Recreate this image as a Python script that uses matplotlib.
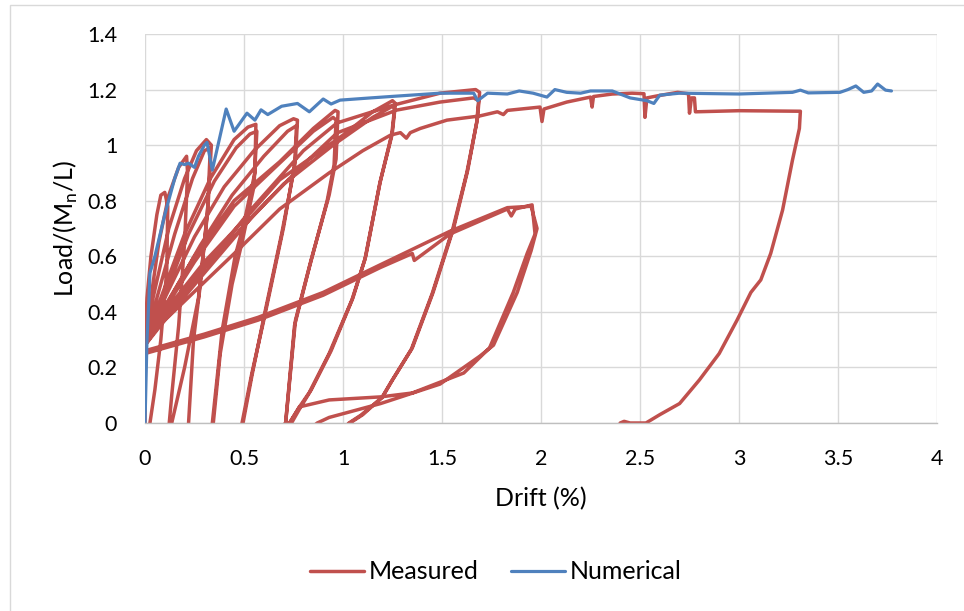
import numpy as np
import matplotlib
matplotlib.use("Agg")
import matplotlib.pyplot as plt
from matplotlib.ticker import FuncFormatter, MultipleLocator
from matplotlib.patches import Rectangle

# numerical model: drift (%) vs normalised load
num_x = [0.0, 0.01, 0.02, 0.025, 0.05, 0.1, 0.15, 0.177, 0.2, 0.22, 0.25, 0.27, 0.30, 0.313,
         0.34, 0.41, 0.45, 0.515, 0.555, 0.586, 0.62, 0.69, 0.77, 0.83, 0.90, 0.94, 0.985,
         1.14, 1.24, 1.49, 1.66, 1.68, 1.73, 1.83, 1.89, 1.96, 2.03, 2.07, 2.13, 2.2, 2.25,
         2.36, 2.45, 2.535, 2.57, 2.6, 2.7, 3.0, 3.27, 3.31, 3.35, 3.51, 3.55, 3.59, 3.63,
         3.67, 3.70, 3.74, 3.77]
num_y = [0.0, 0.3, 0.45, 0.54, 0.6, 0.75, 0.88, 0.935, 0.93, 0.935, 0.92, 0.96, 1.0, 1.01,
         0.91, 1.13, 1.05, 1.115, 1.09, 1.127, 1.11, 1.14, 1.15, 1.12, 1.166, 1.148, 1.162,
         1.17, 1.175, 1.187, 1.187, 1.16, 1.187, 1.184, 1.195, 1.187, 1.173, 1.2, 1.19, 1.187, 1.195,
         1.195, 1.17, 1.16, 1.15, 1.18, 1.187, 1.184, 1.19, 1.198, 1.188, 1.19, 1.2, 1.213, 1.19,
         1.195, 1.22, 1.198, 1.195]

# measured response, one list per loading/unloading excursion (negative side lies off the plot)
cyc1_x = [0.0, 0.003, 0.01, 0.03, 0.06, 0.08, 0.10, 0.115, 0.11, 0.08, 0.05, 0.025, 0.0, -0.2]
cyc1_y = [0.0, 0.34, 0.45, 0.6, 0.75, 0.82, 0.83, 0.78, 0.55, 0.3, 0.12, 0.0, -0.3, -0.6]
cyc2_x = [-0.05, 0.0, 0.03, 0.07, 0.12, 0.17, 0.21, 0.215, 0.2, 0.17, 0.135, 0.11, -0.2]
cyc2_y = [0.2, 0.3, 0.45, 0.65, 0.82, 0.92, 0.96, 0.9, 0.65, 0.35, 0.1, -0.1, -0.6]
cyc3_x = [-0.05, 0.0, 0.05, 0.12, 0.2, 0.26, 0.31, 0.335, 0.32, 0.28, 0.245, 0.22, 0.19, -0.2]
cyc3_y = [0.22, 0.32, 0.48, 0.7, 0.88, 0.98, 1.02, 1.0, 0.8, 0.5, 0.3, 0.0, -0.3, -0.6]
cyc4_x = [-0.05, 0.0, 0.06, 0.15, 0.24, 0.30, 0.33, 0.315, 0.27, 0.2, 0.135, 0.1, -0.2]
cyc4_y = [0.2, 0.3, 0.45, 0.68, 0.88, 0.98, 0.99, 0.75, 0.45, 0.2, 0.0, -0.2, -0.6]
cyc5_x = [-0.05, 0.0, 0.08, 0.2, 0.33, 0.45, 0.52, 0.56, 0.555, 0.5, 0.455, 0.39, 0.34, 0.3, -0.2]
cyc5_y = [0.2, 0.3, 0.45, 0.68, 0.88, 1.02, 1.065, 1.075, 0.9, 0.72, 0.6, 0.335, 0.0, -0.3, -0.6]
cyc6_x = [-0.05, 0.0, 0.1, 0.22, 0.35, 0.46, 0.53, 0.565, 0.55, 0.49, 0.44, 0.38, 0.345, 0.3, -0.2]
cyc6_y = [0.2, 0.31, 0.46, 0.68, 0.87, 0.99, 1.04, 1.05, 0.85, 0.65, 0.5, 0.25, 0.0, -0.3, -0.6]
cyc7_x = [-0.05, 0.0, 0.1, 0.25, 0.4, 0.55, 0.68, 0.75, 0.77, 0.76, 0.70, 0.60, 0.54, 0.49, 0.45, -0.2]
cyc7_y = [0.2, 0.3, 0.45, 0.67, 0.85, 0.98, 1.07, 1.095, 1.09, 0.95, 0.705, 0.37, 0.18, 0.0, -0.3, -0.6]
cyc8_x = [-0.05, 0.0, 0.12, 0.28, 0.44, 0.6, 0.72, 0.765, 0.755, 0.69, 0.6, 0.54, 0.495, 0.45, -0.2]
cyc8_y = [0.2, 0.3, 0.44, 0.64, 0.82, 0.96, 1.05, 1.07, 0.92, 0.68, 0.38, 0.17, 0.0, -0.3, -0.6]
cyc9_x = [-0.05, 0.0, 0.1, 0.25, 0.45, 0.68, 0.85, 0.96, 0.975, 0.965, 0.93, 0.84, 0.76, 0.71, 0.67, -0.2]
cyc9_y = [0.2, 0.3, 0.42, 0.6, 0.8, 0.94, 1.06, 1.125, 1.12, 0.95, 0.82, 0.59, 0.37, 0.0, -0.3, -0.6]
cyc10_x = [-0.05, 0.0, 0.1, 0.25, 0.45, 0.68, 0.85, 0.95, 0.965, 0.955, 0.92, 0.83, 0.755, 0.71, -0.2]
cyc10_y = [0.2, 0.3, 0.41, 0.58, 0.78, 0.935, 1.05, 1.1, 1.09, 0.93, 0.8, 0.56, 0.35, 0.0, -0.6]
cyc11_x = [-0.05, 0.0, 0.1, 0.3, 0.5, 0.68, 1.0, 1.15, 1.25, 1.265, 1.25, 1.19, 1.11, 1.045, 0.93,
           0.83, 0.78, 0.73, 0.7, -0.2]
cyc11_y = [0.2, 0.3, 0.4, 0.58, 0.73, 0.875, 1.036, 1.12, 1.16, 1.15, 1.05, 0.875, 0.587, 0.443, 0.25,
           0.11, 0.058, 0.0, -0.2, -0.6]
cyc12_x = [-0.05, 0.0, 0.1, 0.3, 0.5, 0.7, 0.95, 1.15, 1.25, 1.26, 1.245, 1.185, 1.115, 1.05, 0.94,
           0.84, 0.78, 0.74, -0.2]
cyc12_y = [0.2, 0.29, 0.39, 0.56, 0.71, 0.86, 1.0, 1.1, 1.14, 1.13, 1.03, 0.86, 0.6, 0.45, 0.26,
           0.12, 0.05, 0.0, -0.6]
cyc13_x = [-0.05, 0.0, 0.1, 0.3, 0.55, 0.8, 0.97, 1.26, 1.49, 1.67, 1.69, 1.68, 1.63, 1.56, 1.455,
           1.35, 1.25, 1.2, 1.1, 1.035, 0.9, -0.2]
cyc13_y = [0.18, 0.28, 0.38, 0.56, 0.78, 0.98, 1.08, 1.145, 1.187, 1.2, 1.19, 1.1, 0.91, 0.705, 0.47,
           0.27, 0.155, 0.094, 0.03, 0.0, -0.1, -0.6]
cyc14_x = [-0.05, 0.0, 0.1, 0.3, 0.55, 0.8, 0.97, 1.27, 1.49, 1.66, 1.685, 1.675, 1.625, 1.555, 1.45,
           1.345, 1.245, 1.195, 1.09, 1.03, 0.9, -0.2]
cyc14_y = [0.18, 0.28, 0.37, 0.54, 0.75, 0.93, 1.044, 1.126, 1.155, 1.17, 1.16, 1.08, 0.9, 0.7, 0.465,
           0.265, 0.15, 0.09, 0.028, 0.0, -0.1, -0.6]
loop1_x = [-0.05, 0.0, 0.3, 0.57, 0.9, 1.19, 1.35, 1.36, 1.54, 1.83, 1.85, 1.87, 1.955, 1.97, 1.93,
           1.86, 1.74, 1.61, 1.35, 1.19, 0.93, 0.78, 0.73, 0.6, -0.2]
loop1_y = [0.2, 0.25, 0.31, 0.37, 0.46, 0.56, 0.61, 0.585, 0.68, 0.77, 0.745, 0.77, 0.785, 0.68, 0.61,
           0.47, 0.27, 0.18, 0.108, 0.094, 0.083, 0.058, 0.0, -0.2, -0.6]
loop2_x = [-0.05, 0.0, 0.3, 0.57, 0.9, 1.19, 1.54, 1.83, 1.95, 1.98, 1.95, 1.88, 1.76, 1.69,
           1.49, 1.19, 0.93, 0.87, 0.7, -0.2]
loop2_y = [0.2, 0.26, 0.32, 0.38, 0.47, 0.57, 0.69, 0.775, 0.78, 0.7, 0.62, 0.47, 0.28, 0.24,
           0.14, 0.07, 0.02, 0.0, -0.1, -0.6]
big_x = [-0.05, 0.0, 0.1, 0.26, 0.48, 0.68, 0.93, 1.1, 1.24, 1.29, 1.32, 1.34, 1.39, 1.525, 1.69,
         1.78, 1.81, 1.83, 1.995, 2.005, 2.015, 2.13, 2.25, 2.258, 2.265, 2.36, 2.46, 2.52,
         2.525, 2.535, 2.585, 2.69, 2.745, 2.75, 2.76, 2.775, 2.78, 3.0, 3.31, 3.305, 3.27,
         3.22, 3.16, 3.11, 3.06, 2.99, 2.90, 2.80, 2.70, 2.6, 2.53, 2.45, 2.42, 2.40, 2.38]
big_y = [0.2, 0.3, 0.37, 0.48, 0.63, 0.77, 0.9, 0.98, 1.036, 1.045, 1.025, 1.045, 1.06, 1.09, 1.105,
         1.12, 1.11, 1.125, 1.137, 1.085, 1.13, 1.155, 1.173, 1.137, 1.175, 1.184, 1.187, 1.185,
         1.10, 1.17, 1.177, 1.19, 1.185, 1.115, 1.17, 1.17, 1.12, 1.124, 1.122, 1.06, 0.946,
         0.766, 0.61, 0.515, 0.47, 0.37, 0.25, 0.155, 0.07, 0.03, 0.0, 0.0, 0.006, 0.0, -0.05]

meas_x = np.concatenate([cyc1_x, cyc2_x, cyc3_x, cyc4_x, cyc5_x, cyc6_x, cyc7_x, cyc8_x,
                         cyc9_x, cyc10_x, cyc11_x, cyc12_x, cyc13_x, cyc14_x, loop1_x, loop2_x, big_x])
meas_y = np.concatenate([cyc1_y, cyc2_y, cyc3_y, cyc4_y, cyc5_y, cyc6_y, cyc7_y, cyc8_y,
                         cyc9_y, cyc10_y, cyc11_y, cyc12_y, cyc13_y, cyc14_y, loop1_y, loop2_y, big_y])

plt.rcParams['font.family'] = ['Lato', 'DejaVu Sans']

fig = plt.figure(figsize=(9.64, 6.11), dpi=100)
# outer chart-area frame
fig.patches.append(Rectangle((10 / 964, -0.05), 1.0, 1.05 - 5 / 611, transform=fig.transFigure,
                             fill=False, edgecolor='#d9d9d9', linewidth=1.0))
ax = fig.add_axes([145 / 964, 1 - 423 / 611, 792 / 964, 389 / 611])

ax.plot(meas_x, meas_y, color='#c0504d', linewidth=2.5, label='Measured',
        solid_joinstyle='round', solid_capstyle='round')
ax.plot(num_x, num_y, color='#4f81bd', linewidth=2.3, label='Numerical',
        solid_joinstyle='round', solid_capstyle='round')

ax.set_xlim(0, 4)
ax.set_ylim(0, 1.4)
ax.xaxis.set_major_locator(MultipleLocator(0.5))
ax.yaxis.set_major_locator(MultipleLocator(0.2))
fmt = FuncFormatter(lambda v, p: '%g' % round(v, 2))
ax.xaxis.set_major_formatter(fmt)
ax.yaxis.set_major_formatter(fmt)
ax.grid(True, color='#d9d9d9', linewidth=1.0)
ax.set_axisbelow(True)
for side in ['top', 'right', 'left']:
    ax.spines[side].set_visible(False)
ax.spines['bottom'].set_color('#bfbfbf')
ax.spines['bottom'].set_linewidth(1.0)
ax.tick_params(length=0, labelsize=15.5, colors='black')
ax.tick_params(axis='y', pad=20)
ax.tick_params(axis='x', pad=19)

ax.set_xlabel('Drift (%)', fontsize=18, va='center')
ax.xaxis.set_label_coords(0.5, (423 - 499) / 389)
ax.set_ylabel('Load/(M$_\\mathregular{n}$/L)', fontsize=18, va='center')
ax.yaxis.set_label_coords((66 - 145) / 792, 0.5)

ax.legend(loc='center', bbox_to_anchor=(0.443, -0.383), ncol=2, frameon=False,
          fontsize=18, handlelength=2.16, handletextpad=0.2, columnspacing=1.3)

fig.savefig('out.png', dpi=100)
